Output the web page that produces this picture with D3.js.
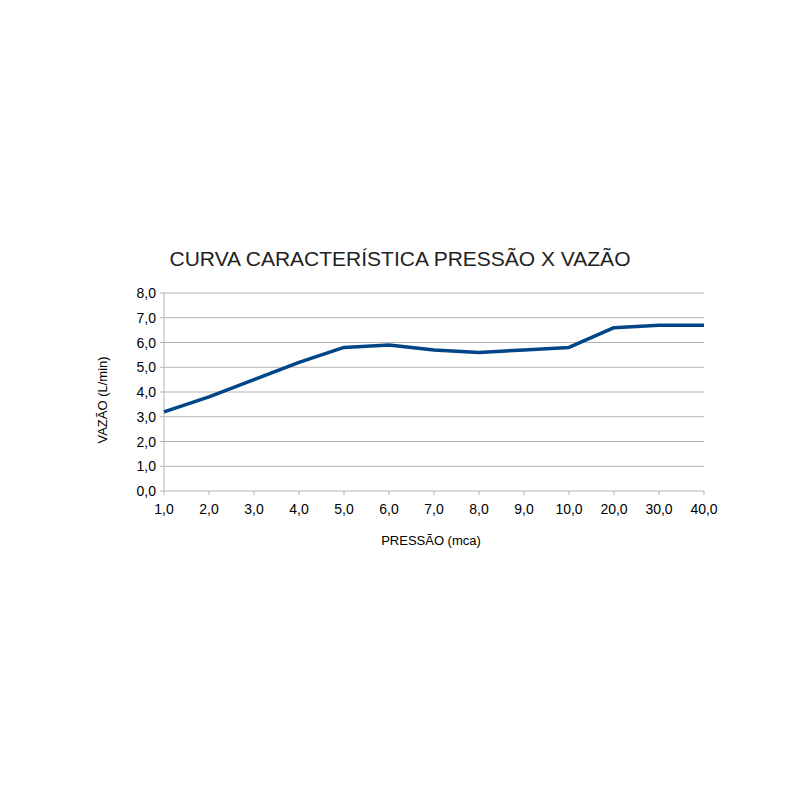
<!DOCTYPE html>
<html><head><meta charset="utf-8">
<script src="https://cdn.jsdelivr.net/npm/d3@7"></script>
<style>body{margin:0;background:#fff}</style>
</head><body>
<svg width="800" height="800"></svg>
<script>
var pressures = ['1,0','2,0','3,0','4,0','5,0','6,0','7,0','8,0','9,0','10,0','20,0','30,0','40,0']
var flows = [3.2,3.8,4.5,5.2,5.8,5.9,5.7,5.6,5.7,5.8,6.6,6.7,6.7]
var yTicks = [0,1,2,3,4,5,6,7,8]

var svg = d3.select('svg')
var plotLeft = 164, plotRight = 704, plotTop = 293, plotBottom = 491
var font = 'Liberation Sans, Arial, sans-serif'

var x = d3.scalePoint().domain(pressures).range([plotLeft, plotRight])
var y = d3.scaleLinear().domain([0, 8]).range([plotBottom, plotTop])

// gridlines
svg.selectAll('.grid').data(yTicks).enter().append('line')
    .attr('x1', plotLeft).attr('x2', plotRight)
    .attr('y1', d => y(d)).attr('y2', d => y(d))
    .attr('stroke', '#b3b3b3').attr('stroke-width', 1)

svg.append('line').attr('x1', plotLeft).attr('x2', plotLeft).attr('y1', plotTop).attr('y2', plotBottom)
    .attr('stroke', '#b3b3b3')

// tick marks
svg.selectAll('.xt').data(pressures).enter().append('line')
    .attr('x1', d => x(d)).attr('x2', d => x(d))
    .attr('y1', plotBottom).attr('y2', plotBottom + 4).attr('stroke', '#b3b3b3')
svg.selectAll('.yt').data(yTicks).enter().append('line')
    .attr('x1', plotLeft - 4).attr('x2', plotLeft)
    .attr('y1', d => y(d)).attr('y2', d => y(d)).attr('stroke', '#b3b3b3')

svg.selectAll('.yl').data(yTicks).enter().append('text')
    .attr('x', plotLeft - 8).attr('y', d => y(d) + 5)
    .attr('text-anchor', 'end').attr('font-family', font).attr('font-size', 14)
    .text(d => d.toFixed(1).replace('.', ','))

svg.selectAll('.xl').data(pressures).enter().append('text')
    .attr('x', d => x(d)).attr('y', plotBottom + 23)
    .attr('text-anchor', 'middle').attr('font-family', font).attr('font-size', 14)
    .text(d => d)

var line = d3.line().x((d, i) => x(pressures[i])).y(d => y(d))
svg.append('path').datum(flows).attr('d', line)
    .attr('fill', 'none').attr('stroke', '#004586').attr('stroke-width', 3.5)
    .attr('stroke-linejoin', 'round')

svg.append('text').attr('x', 400).attr('y', 266).attr('text-anchor', 'middle')
    .attr('font-family', font).attr('font-size', 21).attr('fill', '#222')
    .text('CURVA CARACTERÍSTICA PRESSÃO X VAZÃO')

svg.append('text').attr('x', 431).attr('y', 545).attr('text-anchor', 'middle')
    .attr('font-family', font).attr('font-size', 13).text('PRESSÃO (mca)')

svg.append('text').attr('transform', 'translate(107,400) rotate(-90)').attr('text-anchor', 'middle')
    .attr('font-family', font).attr('font-size', 13).text('VAZÃO (L/min)')
</script>
</body></html>
